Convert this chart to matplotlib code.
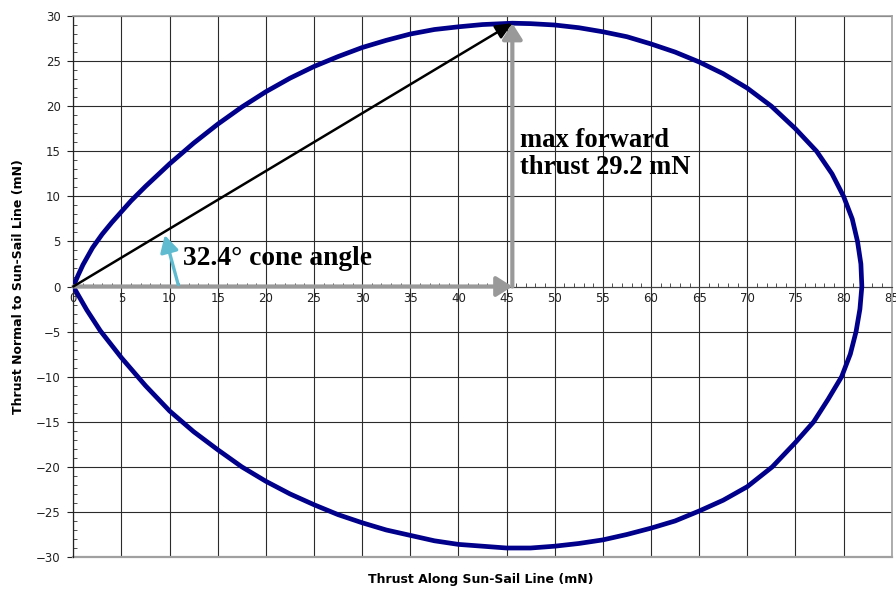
import matplotlib
matplotlib.use("Agg")
import matplotlib.pyplot as plt
from matplotlib.ticker import MultipleLocator

# thrust envelope, upper half (origin -> far side) and lower half (far side -> origin)
upper_x = [0, 0.5, 1, 2, 3, 4, 5, 6, 7.5, 10, 12.5, 15, 17.5, 20, 22.5, 25, 27.5, 30,
           32.5, 35, 37.5, 40, 42.5, 45.6, 47.5, 50, 52.5, 55, 57.5, 60, 62.5, 65,
           67.5, 70, 72.5, 75, 77.2, 78.8, 80.0, 80.9, 81.45, 81.8, 81.9]
upper_y = [0, 1.25, 2.4, 4.3, 5.8, 7.1, 8.3, 9.5, 11.1, 13.6, 15.9, 18.0, 19.9, 21.6, 23.1, 24.4, 25.5, 26.5,
           27.3, 28.0, 28.5, 28.8, 29.05, 29.2, 29.15, 29.0, 28.7, 28.25, 27.7, 26.9, 26.0, 24.9,
           23.6, 22.0, 20.0, 17.5, 15.0, 12.5, 10.0, 7.5, 5.0, 2.5, 0]
lower_x = [81.7, 81.3, 80.7, 79.8, 78.4, 76.9, 75, 72.6, 70, 67.5, 65, 62.5, 60, 57.5,
           55, 52.5, 50, 47.5, 45, 42.5, 40, 37.5, 35, 32.5, 30, 27.5, 25, 22.5,
           20, 17.5, 15, 12.5, 10, 7.5, 5, 2.8, 1.4, 0]
lower_y = [-2.5, -5.0, -7.5, -10.0, -12.5, -15.0, -17.3, -20.0, -22.2, -23.7, -24.9, -26.0, -26.8, -27.5,
           -28.1, -28.5, -28.8, -29.0, -29.0, -28.8, -28.6, -28.2, -27.6, -27.0, -26.2, -25.3, -24.2, -23.0,
           -21.6, -20.0, -18.1, -16.1, -13.8, -11.0, -7.9, -4.9, -2.6, 0]

# max forward thrust point
max_x, max_y = 45.6, 29.2
cone_label = "32.4\u00b0 cone angle"
max_label = "max forward\nthrust 29.2 mN"

x_ticks = list(range(0, 86, 5))
y_ticks = list(range(-30, 31, 5))

fig = plt.figure(figsize=(8.96, 5.9), dpi=100)
ax = fig.add_axes([0.0818, 0.0559, 0.9134, 0.917])
ax.set_xlim(0, 85)
ax.set_ylim(-30, 30)
ax.set_xticks(x_ticks)
ax.set_yticks(y_ticks)
ax.xaxis.set_minor_locator(MultipleLocator(1))
ax.yaxis.set_minor_locator(MultipleLocator(1))
ax.grid(True, which="major", color="#2b2b2b", lw=0.8, zorder=0)
ax.set_axisbelow(True)

# x axis crosses at y = 0, plot border in grey
ax.spines["bottom"].set_position(("data", 0))
ax.spines["bottom"].set_color("#444444")
ax.spines["bottom"].set_linewidth(0.8)
ax.spines["left"].set_color("#222222")
ax.spines["left"].set_linewidth(0.9)
for side in ["top", "right"]:
    ax.spines[side].set_color("#a0a0a0")
    ax.spines[side].set_linewidth(1.2)
ax.axhline(-30, color="#a0a0a0", lw=1.6, clip_on=False, zorder=1)

ax.tick_params(axis="x", which="major", length=0, pad=4, labelsize=8.5, labelcolor="#222222")
ax.tick_params(axis="x", which="minor", length=3, direction="in", color="#333333")
ax.tick_params(axis="y", which="major", length=4, direction="out", pad=5, labelsize=8.5,
               labelcolor="#222222", color="#222222")
ax.tick_params(axis="y", which="minor", length=3, direction="in", color="#333333")

ax.plot(upper_x + lower_x, upper_y + lower_y, color="#00008b", lw=3.4,
        solid_joinstyle="round", solid_capstyle="round", zorder=3)

# component arrows
ax.annotate("", xy=(max_x, 0), xytext=(0, 0),
            arrowprops=dict(arrowstyle="-|>,head_length=0.95,head_width=0.6",
                            color="#999999", lw=3, shrinkA=0, shrinkB=0), zorder=4)
ax.annotate("", xy=(max_x, max_y), xytext=(max_x, 0),
            arrowprops=dict(arrowstyle="-|>,head_length=0.95,head_width=0.6",
                            color="#999999", lw=3, shrinkA=0, shrinkB=0), zorder=4)
ax.annotate("", xy=(max_x, max_y), xytext=(0, 0),
            arrowprops=dict(arrowstyle="-|>,head_length=1.0,head_width=0.45",
                            color="black", lw=1.8, shrinkA=0, shrinkB=0), zorder=5)
ax.annotate("", xy=(9.5, 5.7), xytext=(10.9, 0.2),
            arrowprops=dict(arrowstyle="-|>,head_length=1.0,head_width=0.55",
                            color="#5ebbd0", lw=2.4, shrinkA=0, shrinkB=0), zorder=5)

ax.text(11.35, 2.33, cone_label, fontsize=19.8, fontweight="bold",
        family="Liberation Serif", va="baseline", ha="left", zorder=6)
ax.text(46.4, 12.5, max_label, fontsize=19.2, fontweight="bold",
        family="Liberation Serif", va="baseline", ha="left", linespacing=1.1, zorder=6)

fig.text(0.537, 0.017, "Thrust Along Sun-Sail Line (mN)", fontsize=9, fontweight="bold",
         ha="center", va="center")
fig.text(0.021, 0.514, "Thrust Normal to Sun-Sail Line (mN)", fontsize=9, fontweight="bold",
         ha="center", va="center", rotation=90)

fig.savefig("out.png", dpi=100)
